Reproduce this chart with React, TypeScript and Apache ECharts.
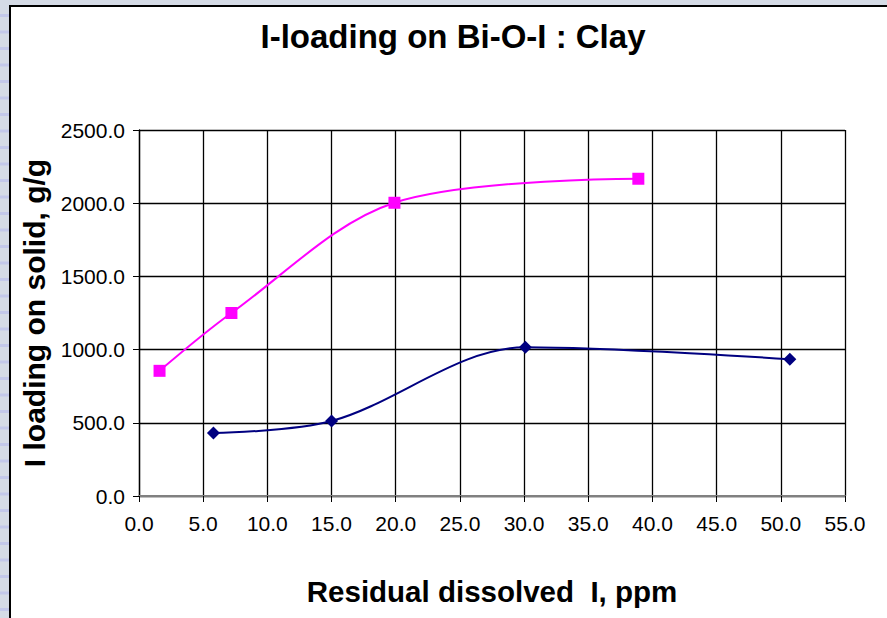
import React, { useEffect, useRef } from "react";
import * as echarts from "echarts";

const titleText = "I-loading on Bi-O-I : Clay";
const xAxisName = "Residual dissolved  I, ppm";
const yAxisName = "I loading on solid, g/g";

const clayX = [5.8, 15.0, 30.1, 50.7];
const clayY = [430, 512, 1016, 934];

const biOIX = [1.6, 7.2, 19.9, 38.9];
const biOIY = [855, 1250, 2003, 2167];

const xMin = 0;
const xMax = 55;
const xStep = 5;
const yMin = 0;
const yMax = 2500;
const yStep = 500;

const FONT = "'Liberation Sans', Arial, Helvetica, sans-serif";

export default function App() {
  const ref = useRef<HTMLDivElement>(null);

  useEffect(() => {
    document.body.style.margin = "0";
    const chart = echarts.init(ref.current!, undefined, { renderer: "svg" });

    const stripes: any[] = [];
    for (let i = 0; i < 40; i++) {
      stripes.push({
        type: "rect",
        z: -9,
        shape: { x: 0, y: 14 + i * 16.5, width: 9, height: 3 },
        style: { fill: "#c3c8ea" },
        silent: true,
      });
    }

    chart.setOption({
      animation: false,
      backgroundColor: "#ffffff",
      graphic: [
        {
          type: "rect",
          z: -10,
          shape: { x: 0, y: 0, width: 887, height: 618 },
          style: { fill: "#d5dbe6" },
          silent: true,
        },
        ...stripes,
        {
          type: "rect",
          z: -8,
          shape: { x: 10, y: 6, width: 890, height: 630 },
          style: { fill: "#ffffff", stroke: "#000000", lineWidth: 2 },
          silent: true,
        },
      ],
      title: {
        text: titleText,
        left: 448,
        textAlign: "center",
        top: 15,
        textStyle: {
          fontFamily: FONT,
          fontSize: 33,
          fontWeight: "bold",
          color: "#000000",
        },
      },
      grid: {
        left: 139,
        right: 42,
        top: 130,
        bottom: 122,
        show: false,
      },
      xAxis: {
        type: "value",
        min: xMin,
        max: xMax,
        interval: xStep,
        name: xAxisName,
        nameLocation: "middle",
        nameGap: 80,
        nameTextStyle: {
          fontFamily: FONT,
          fontSize: 29.5,
          fontWeight: "bold",
          color: "#000000",
        },
        axisLine: { show: true, lineStyle: { color: "#808080", width: 2 } },
        axisTick: { show: true, length: 6, lineStyle: { color: "#000000" } },
        axisLabel: {
          fontFamily: FONT,
          fontSize: 21,
          color: "#000000",
          margin: 17,
          formatter: (v: number) => v.toFixed(1),
        },
        splitLine: { show: true, lineStyle: { color: "#000000", width: 1.3 } },
      },
      yAxis: {
        type: "value",
        min: yMin,
        max: yMax,
        interval: yStep,
        name: yAxisName,
        nameLocation: "middle",
        nameGap: 79,
        nameTextStyle: {
          fontFamily: FONT,
          fontSize: 30,
          fontWeight: "bold",
          color: "#000000",
        },
        axisLine: { show: true, lineStyle: { color: "#000000", width: 1.3 } },
        axisTick: { show: true, length: 6, lineStyle: { color: "#000000" } },
        axisLabel: {
          fontFamily: FONT,
          fontSize: 21,
          color: "#000000",
          margin: 14,
          formatter: (v: number) => v.toFixed(1),
        },
        splitLine: {
          show: true,
          lineStyle: { color: "#000000", width: 1.3 },
        },
      },
      series: [
        {
          name: "Clay",
          type: "line",
          smooth: 0.33,
          data: clayX.map((x, i) => [x, clayY[i]]),
          symbol: "diamond",
          symbolSize: 13,
          lineStyle: { color: "#000080", width: 2 },
          itemStyle: { color: "#000080" },
          z: 3,
        },
        {
          name: "Bi-O-I",
          type: "line",
          smooth: 0.33,
          data: biOIX.map((x, i) => [x, biOIY[i]]),
          symbol: "rect",
          symbolSize: 12,
          lineStyle: { color: "#ff00ff", width: 2 },
          itemStyle: { color: "#ff00ff" },
          z: 3,
        },
      ],
    });

    return () => chart.dispose();
  }, []);

  return <div ref={ref} style={{ width: 887, height: 618 }} />;
}
